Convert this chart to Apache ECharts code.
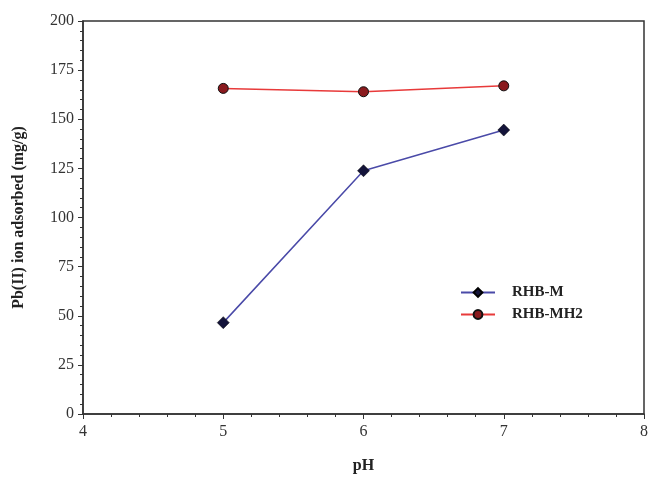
<!DOCTYPE html>
<html>
<head>
<meta charset="utf-8">
<script src="https://cdn.jsdelivr.net/npm/echarts@6/dist/echarts.min.js"></script>
<style>
  html, body { margin: 0; padding: 0; background: #fff; }
  #chart { width: 651px; height: 483px; }
</style>
</head>
<body>
<div id="chart"></div>
<script>
// pH values and Pb(II) uptake (mg/g) for the two adsorbents
const phValues = [5, 6, 7];
const rhbM = [46.5, 123.8, 144.5];
const rhbMH2 = [165.7, 164.0, 167.0];
const seriesNames = ['RHB-M', 'RHB-MH2'];

const serif = '"Liberation Serif", "DejaVu Serif", serif';
const toPairs = (xs, ys) => xs.map((x, i) => [x, ys[i]]);

const chart = echarts.init(document.getElementById('chart'));
chart.setOption({
  animation: false,
  backgroundColor: '#fff',
  grid: {
    left: 83, right: 7, top: 21, bottom: 69,
    show: true, borderColor: '#333', borderWidth: 1.5
  },
  legend: {
    left: 455, top: 280, orient: 'vertical',
    itemWidth: 34, itemHeight: 11, itemGap: 7,
    textStyle: { fontFamily: serif, fontWeight: 'bold', fontSize: 15, color: '#222', padding: [0, 0, 0, 12] },
    data: seriesNames
  },
  xAxis: {
    type: 'value', min: 4, max: 8, interval: 1,
    name: 'pH', nameLocation: 'middle', nameGap: 44,
    nameTextStyle: { fontFamily: serif, fontWeight: 'bold', fontSize: 16, color: '#222' },
    axisLine: { show: true, lineStyle: { color: '#333', width: 1.5 } },
    axisTick: { show: true, inside: false, length: 5, lineStyle: { color: '#333' } },
    minorTick: { show: true, splitNumber: 5, length: 3, lineStyle: { color: '#333' } },
    axisLabel: { fontFamily: serif, fontSize: 16, color: '#333', margin: 10 },
    splitLine: { show: false }
  },
  yAxis: {
    type: 'value', min: 0, max: 200, interval: 25,
    name: 'Pb(II) ion adsorbed (mg/g)', nameLocation: 'middle', nameGap: 56,
    nameTextStyle: { fontFamily: serif, fontWeight: 'bold', fontSize: 16, color: '#222' },
    axisLine: { show: true, lineStyle: { color: '#333', width: 1.5 } },
    axisTick: { show: true, inside: false, length: 5, lineStyle: { color: '#333' } },
    minorTick: { show: true, splitNumber: 5, length: 3, lineStyle: { color: '#333' } },
    axisLabel: { fontFamily: serif, fontSize: 16, color: '#333', margin: 9 },
    splitLine: { show: false }
  },
  series: [
    {
      name: seriesNames[0], type: 'line',
      data: toPairs(phValues, rhbM),
      symbol: 'diamond', symbolSize: 12,
      lineStyle: { color: '#4a4aa8', width: 1.5 },
      itemStyle: { color: '#14143a', borderColor: '#000', borderWidth: 0.5 }
    },
    {
      name: seriesNames[1], type: 'line',
      data: toPairs(phValues, rhbMH2),
      symbol: 'circle', symbolSize: 10,
      lineStyle: { color: '#e83a3a', width: 1.5 },
      itemStyle: { color: '#8a1a1e', borderColor: '#111', borderWidth: 1 }
    }
  ]
});
</script>
</body>
</html>
